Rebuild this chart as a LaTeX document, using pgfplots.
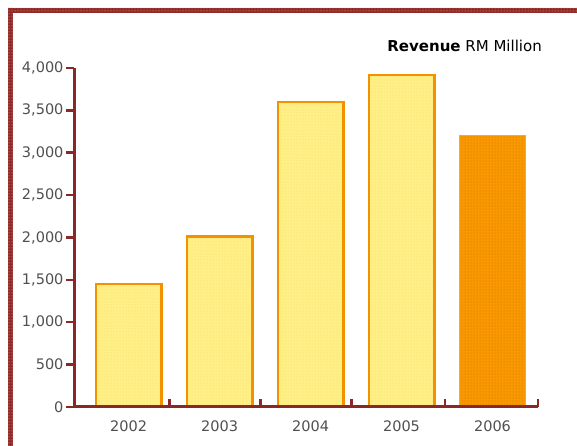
\documentclass[border=0pt]{standalone}
\usepackage{pgfplots}
\pgfplotsset{compat=1.18}
\usepackage{fontspec}
\setmainfont{DejaVu Sans}
\usetikzlibrary{patterns}
\definecolor{framered}{HTML}{8E2A2A}
\definecolor{axisred}{HTML}{8A2828}
\definecolor{baryellow}{HTML}{FFF084}
\definecolor{barorange}{HTML}{F39200}
\definecolor{lastbar}{HTML}{F59A00}
\definecolor{ticktext}{HTML}{505050}
\begin{document}
\begin{tikzpicture}[x=1pt,y=1pt]
\useasboundingbox (0,0) rectangle (577,446);
\fill[white] (0,0) rectangle (577,446);
% frame on top and left
\fill[framered, postaction={pattern=dots, pattern color=orange!55}] (8,0) rectangle (13,438);
\fill[framered, postaction={pattern=dots, pattern color=orange!55}] (8,433) rectangle (577,438);

\begin{axis}[
  at={(74pt,39pt)}, anchor=south west,
  scale only axis,
  width=464pt, height=339pt,
  xmin=-0.6, xmax=4.5,
  ymin=0, ymax=4000,
  axis lines*=left,
  axis line style={axisred, line width=3pt},
  ytick={0,500,...,4000},
  xtick={0.45,1.45,2.45,3.48,4.5},
  xticklabels={},
  extra x ticks={0,1,2,3,4},
  extra x tick labels={2002,2003,2004,2005,2006},
  extra x tick style={major tick length=0pt},
  tick style={axisred, line width=2.5pt},
  tick align=inside,
  major tick length=-8pt,
  axis on top,
  yticklabel style={/pgf/number format/1000 sep={,}, xshift=-7pt},
  xticklabel style={yshift=-10pt},
  /pgf/number format/assume math mode=true,
  tick label style={font=\fontsize{14.5}{14.5}\selectfont, text=ticktext},
  ybar, bar width=0.72, bar shift=0pt,
  clip=false,
]
\addplot[draw=barorange, line width=2.5pt, fill=baryellow,
  postaction={pattern=dots, pattern color=barorange!45}]
  coordinates {(0,1450) (1,2010) (2,3600) (3,3920)};
\addplot[draw=barorange!80, line width=1pt, fill=lastbar,
  postaction={pattern=dots, pattern color=orange!70!red}]
  coordinates {(4,3200)};
\end{axis}

\node[anchor=east, font=\fontsize{15}{15}\selectfont, inner sep=0pt] at (542,400)
  {\textbf{Revenue} RM Million};
\end{tikzpicture}
\end{document}
